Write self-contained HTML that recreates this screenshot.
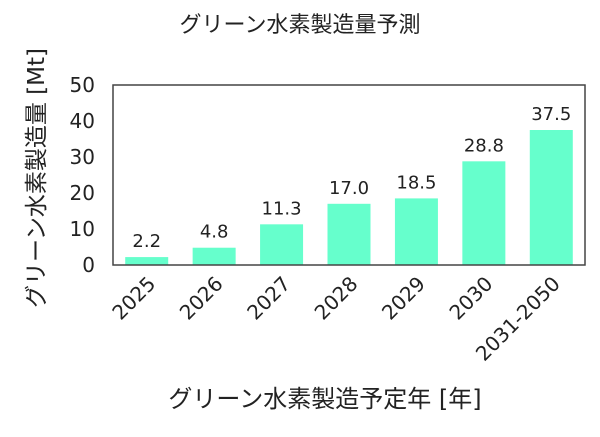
<!DOCTYPE html>
<html><head><meta charset="utf-8"><style>
body{margin:0;background:#fff;}
text{font-family:"DejaVu Sans","Noto Sans CJK JP",sans-serif;fill:#222;}
</style></head><body>
<svg width="600" height="432" xmlns="http://www.w3.org/2000/svg">
<text x="300" y="32" font-size="22" text-anchor="middle">グリーン水素製造量予測</text>
<g id="plot"></g>
<text x="0" y="0" font-size="23" text-anchor="middle" transform="translate(44,178) rotate(-90)">グリーン水素製造量 [Mt]</text>
<text x="325" y="407" font-size="24" text-anchor="middle">グリーン水素製造予定年 [年]</text>
</svg>
<script>
const categories=["2025","2026","2027","2028","2029","2030","2031-2050"];
const values=[2.2,4.8,11.3,17.0,18.5,28.8,37.5];
const yTicks=[0,10,20,30,40,50];
const L=113,R=585,T=85,B=265,yMax=50;
const ns="http://www.w3.org/2000/svg";
const g=document.getElementById('plot');
const step=(R-L)/categories.length;
const y=v=>B-(v/yMax)*(B-T);
const x=i=>L+step*(i+0.5);
function mk(t,a){const e=document.createElementNS(ns,t);for(const k in a)e.setAttribute(k,a[k]);g.appendChild(e);return e;}
yTicks.forEach(t=>{const e=mk('text',{x:L-18,y:y(t)+7,'font-size':20,'text-anchor':'end'});e.textContent=t;

});
values.forEach((v,i)=>{const b=mk('rect',{x:x(i)-21.5,y:y(v),width:43,height:B-y(v),fill:'#66ffcc'});


const t=mk('text',{x:x(i),y:y(v)-10,'font-size':18,'text-anchor':'middle'});t.textContent=v.toFixed(1);


const c=mk('text',{x:0,y:0,'font-size':20,'text-anchor':'end',transform:`translate(${x(i)+10},${B+20}) rotate(-45)`});c.textContent=categories[i];

});
const f=mk('rect',{x:L,y:T,width:R-L,height:B-T,fill:'none',stroke:'#444','stroke-width':1.5});


</script>
</body></html>
